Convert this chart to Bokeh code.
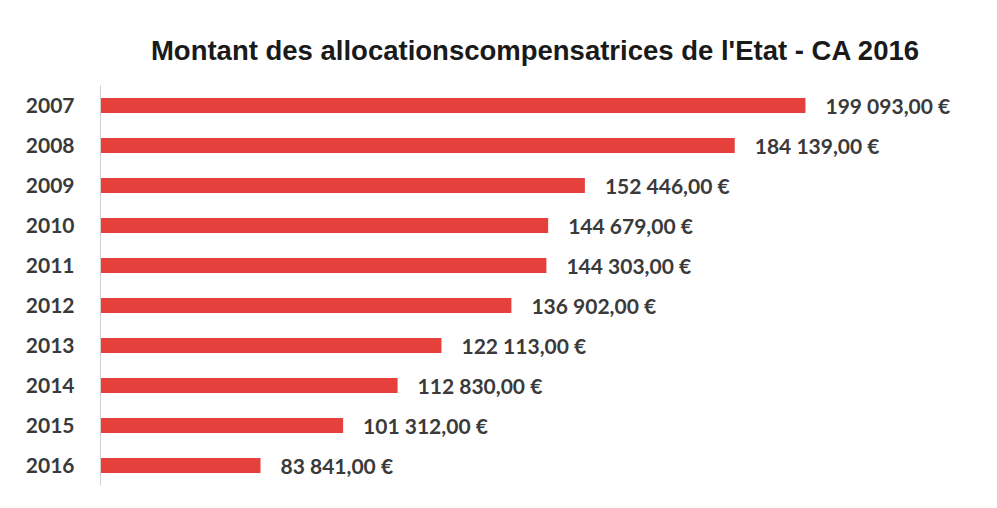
from bokeh.plotting import figure
from bokeh.models import ColumnDataSource, FactorRange, Range1d
from bokeh.core.properties import value
from bokeh.embed import file_html
from bokeh.resources import INLINE

years = ["2007", "2008", "2009", "2010", "2011", "2012", "2013", "2014", "2015", "2016"]
amounts = [199093, 184139, 152446, 144679, 144303, 136902, 122113, 112830, 101312, 83841]
title_text = "Montant des allocationscompensatrices de l'Etat - CA 2016"


def fmt(v):
    s = f"{v:,.2f}"
    ip, dp = s.split(".")
    return ip.replace(",", " ") + "," + dp + " €"


labels = [fmt(v) for v in amounts]

src = ColumnDataSource(dict(year=years, amount=amounts, label=labels))

p = figure(
    width=990, height=500,
    y_range=FactorRange(*years[::-1]),
    x_range=Range1d(50000, 234000),
    output_backend="svg", toolbar_location=None,
    min_border_left=100, min_border_right=20, min_border_top=85, min_border_bottom=15,
)
p.hbar(y="year", right="amount", left=50000, height=0.38, source=src,
       fill_color="#e5403b", line_color=None)
p.text(x="amount", y="year", text="label", source=src, x_offset=20,
       text_baseline="middle", text_align="left",
       text_font=value("Lato"), text_font_style="bold", text_font_size="21px",
       text_color="#3a3a3a")

p.title.text = title_text
p.title.align = "center"
p.title.text_font = "Liberation Sans"
p.title.text_font_style = "bold"
p.title.text_font_size = "27.5px"
p.title.text_color = "#1a1a1a"
p.title.standoff = 40

p.xaxis.visible = False
p.yaxis.axis_line_color = "#d0d0d0"
p.yaxis.major_tick_line_color = None
p.yaxis.minor_tick_line_color = None
p.yaxis.major_label_standoff = 20
p.yaxis.major_label_text_font = "Lato"
p.yaxis.major_label_text_font_style = "bold"
p.yaxis.major_label_text_font_size = "21px"
p.yaxis.major_label_text_color = "#3a3a3a"
p.xgrid.visible = False
p.ygrid.visible = False
p.outline_line_color = None

open("out.html", "w").write(file_html(p, INLINE))
